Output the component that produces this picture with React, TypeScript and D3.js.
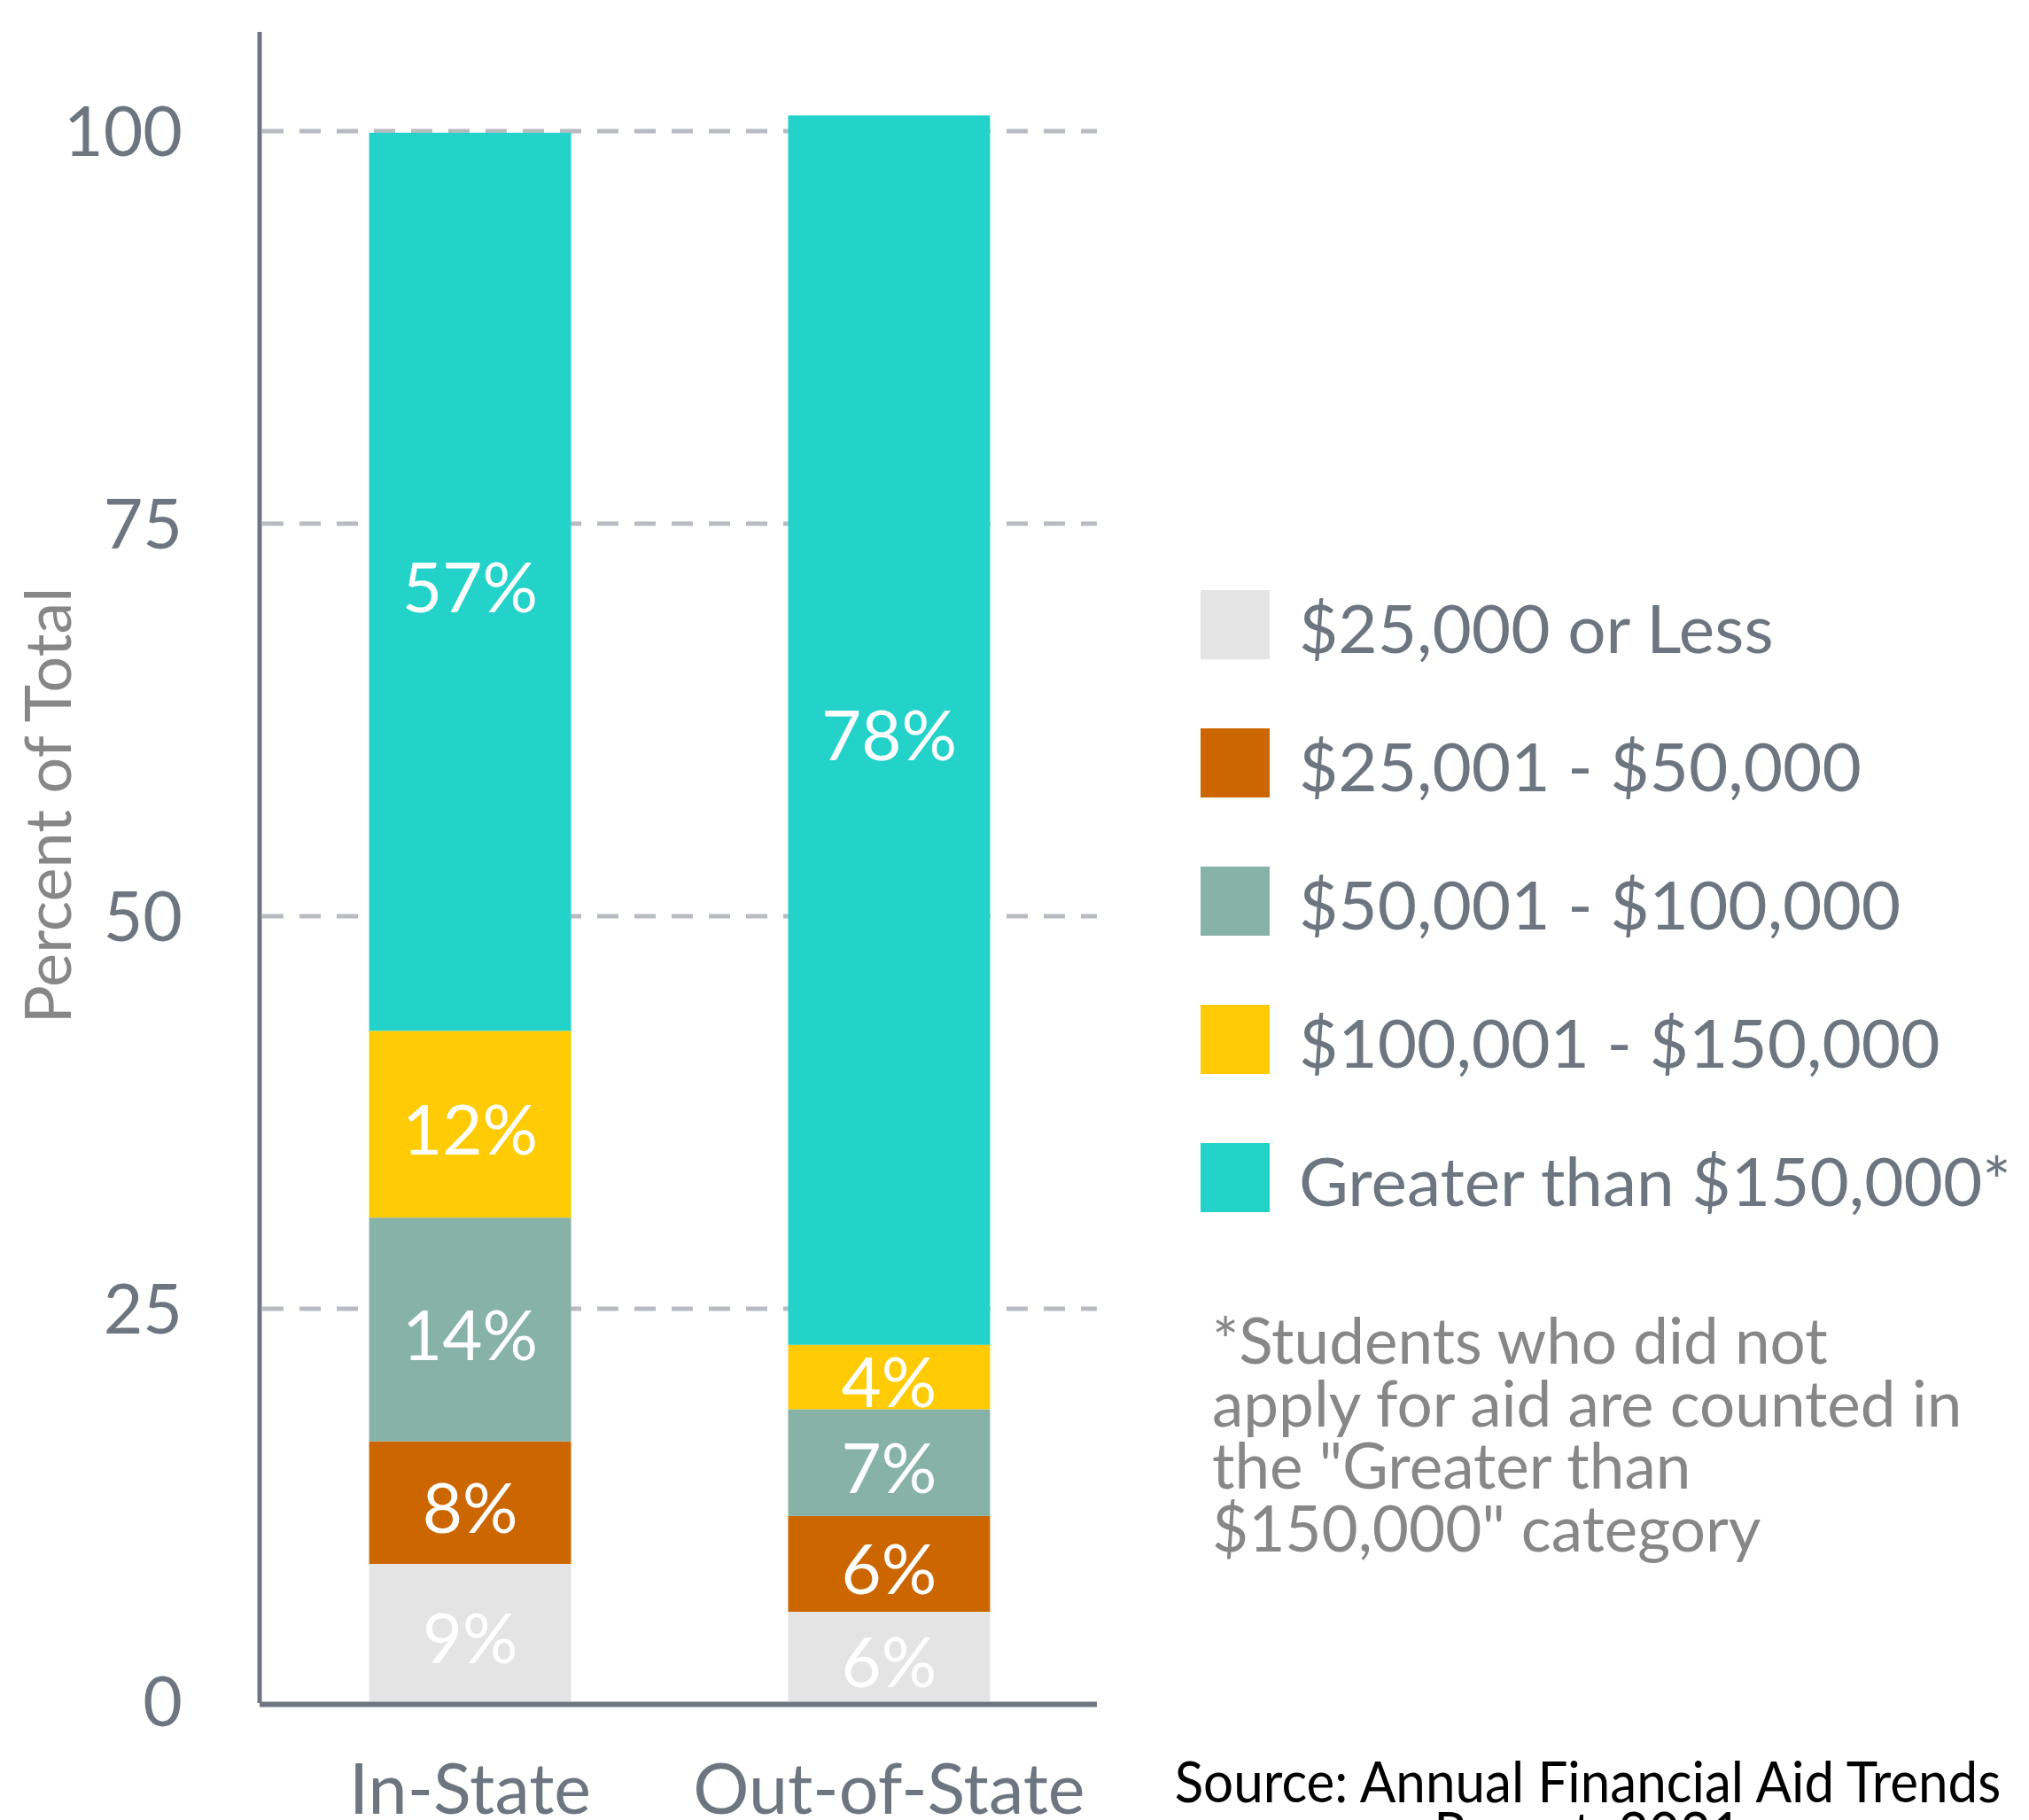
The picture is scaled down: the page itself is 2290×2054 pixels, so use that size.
import React from "react";
import * as d3 from "d3";

const categories = ["In-State", "Out-of-State"];
const seriesNames = [
  "$25,000 or Less",
  "$25,001 - $50,000",
  "$50,001 - $100,000",
  "$100,001 - $150,000",
  "Greater than $150,000*",
];
const seriesColors = ["#e4e4e4", "#cc6600", "#86b2a8", "#fecb05", "#23d3ca"];
const inStateValues = [8.75, 7.8, 14.25, 11.9, 57.2];
const outOfStateValues = [5.7, 6.1, 6.8, 4.1, 78.3];
const yTicks = [0, 25, 50, 75, 100];
const footnoteLines = [
  "*Students who did not",
  "apply for aid are counted in",
  "the \"Greater than",
  "$150,000\" category",
];
const sourceLines = ["Source: Annual Financial Aid Trends", "Report, 2021"];

const W = 2290;
const H = 2054;
const FONT = "Lato, 'Noto Sans', sans-serif";
const AXIS = "#6d7680";
const GRID = "#b8bcc1";
const NOTE = "#878787";

export default function App() {
  if (typeof document !== "undefined") {
    document.body.style.margin = "0";
    document.body.style.overflow = "hidden";
  }
  const values = [inStateValues, outOfStateValues];
  const x = d3
    .scaleBand<string>()
    .domain(categories)
    .range([296, 1238])
    .paddingInner(0.518)
    .paddingOuter(0.255);
  const y = d3.scaleLinear().domain([0, 100]).range([1920, 148]);

  const stacks = values.map((vals) => {
    let acc = 0;
    return vals.map((v) => {
      const s = { y0: acc, y1: acc + v, v };
      acc += v;
      return s;
    });
  });

  const labelFs = 78;
  const legendY = d3.scaleBand<number>().domain(d3.range(seriesNames.length)).range([666, 666 + 156 * 5]);

  return (
    <svg width={W} height={H} style={{ position: "absolute", left: 0, top: 0, background: "#fff" }} fontFamily={FONT}>
      {/* gridlines */}
      {yTicks
        .filter((t) => t > 0)
        .map((t) => (
          <line
            key={"g" + t}
            x1={296}
            x2={1238}
            y1={y(t)}
            y2={y(t)}
            stroke={GRID}
            strokeWidth={5}
            strokeDasharray="24 18"
          />
        ))}
      {/* bars */}
      {categories.map((c, ci) =>
        stacks[ci].map((s, si) => (
          <rect
            key={c + si}
            x={x(c)}
            width={x.bandwidth()}
            y={y(s.y1)}
            height={y(s.y0) - y(s.y1)}
            fill={seriesColors[si]}
          />
        ))
      )}
      {/* bar labels */}
      {categories.map((c, ci) =>
        stacks[ci].map((s, si) => (
          <text
            key={"l" + c + si}
            x={(x(c) as number) + x.bandwidth() / 2}
            y={(y(s.y0) + y(s.y1)) / 2 + 0.36 * labelFs + 6}
            textAnchor="middle"
            fontSize={labelFs}
            fill="#ffffff"
          >
            {Math.round(s.v) + "%"}
          </text>
        ))
      )}
      {/* axes */}
      <line x1={293} x2={293} y1={36} y2={1922} stroke={AXIS} strokeWidth={5} />
      <line x1={293} x2={1238} y1={1923.5} y2={1923.5} stroke={AXIS} strokeWidth={6} />
      {yTicks.map((t) => (
        <text key={"t" + t} x={206} y={y(t) + 0.36 * 77} textAnchor="end" fontSize={77} fill={AXIS}>
          {t}
        </text>
      ))}
      {categories.map((c) => (
        <text
          key={"c" + c}
          x={(x(c) as number) + x.bandwidth() / 2}
          y={2047}
          textAnchor="middle"
          fontSize={79}
          fill={AXIS}
        >
          {c}
        </text>
      ))}
      <text
        transform={`translate(80,909) rotate(-90)`}
        textAnchor="middle"
        fontSize={72}
        fill={NOTE}
      >
        Percent of Total
      </text>
      {/* legend */}
      {seriesNames.map((n, i) => (
        <g key={"lg" + i} transform={`translate(0,${legendY(i)})`}>
          <rect x={1355} y={0} width={78} height={78} fill={seriesColors[i]} />
          <text x={1466} y={39 + 32} fontSize={76.5} fill={AXIS}>
            {n}
          </text>
        </g>
      ))}
      {/* footnote */}
      {footnoteLines.map((l, i) => (
        <text key={"f" + i} x={1368} y={1539 + i * 70.7} fontSize={71} fill={NOTE}>
          {l}
        </text>
      ))}
      {/* source */}
      <g transform="translate(1792,0) scale(0.955,1)">
        {sourceLines.map((l, i) => (
          <text key={"s" + i} x={0} y={2034 + i * 57} textAnchor="middle" fontSize={63} fill="#000">
            {l}
          </text>
        ))}
      </g>
    </svg>
  );
}
